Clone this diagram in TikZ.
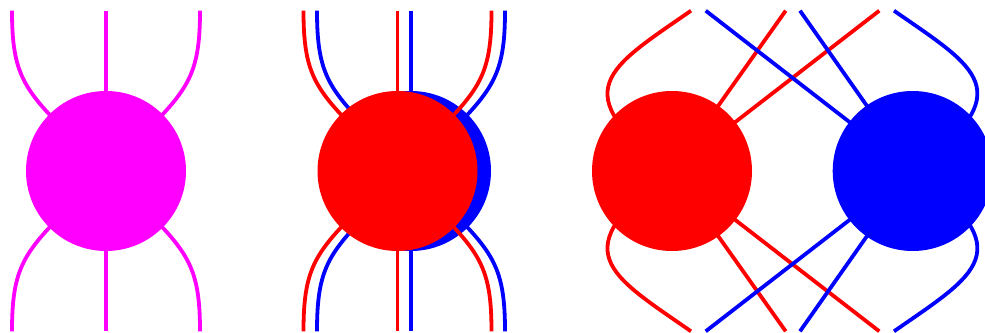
\documentclass[tikz,border=0pt]{standalone}
\usetikzlibrary{positioning}
\definecolor{pmagenta}{RGB}{255,0,255}
\definecolor{pred}{RGB}{255,0,0}
\definecolor{pblue}{RGB}{0,0,255}
\tikzset{
    % Node styles
    blob/.style={circle, inner sep=0pt, minimum size=160pt, draw=none},
    % Leg styles
    leg/.style={line width=3.8pt},
}

\begin{document}
\begin{tikzpicture}[x=1pt, y=-1pt]
    \useasboundingbox (0,0) rectangle (985,332);
    \clip (0,0) rectangle (985,332);

    % Single blob, then two stacked blobs
    \foreach \c/\x/\col in {M/106/pmagenta, B/411/pblue, R/397.5/pred} {
        \coordinate (\c) at (\x,171);
        \coordinate (\c1) at (\x-94,10.7);
        \coordinate (\c2) at (\x,10.7);
        \coordinate (\c3) at (\x+94,10.7);
        \coordinate (\c4) at (\x-94,331.3);
        \coordinate (\c5) at (\x,331.3);
        \coordinate (\c6) at (\x+94,331.3);
        \draw[leg, \col] (\c) .. controls +(-77,-77) and +(0,77) .. (\c1);
        \draw[leg, \col] (\c) -- (\c2);
        \draw[leg, \col] (\c) .. controls +(77,-77) and +(0,77) .. (\c3);
        \draw[leg, \col] (\c) .. controls +(-77,77) and +(0,-77) .. (\c4);
        \draw[leg, \col] (\c) -- (\c5);
        \draw[leg, \col] (\c) .. controls +(77,77) and +(0,-77) .. (\c6);
        \node[blob, fill=\col] (\c-blob) at (\c) {};
    }

    % Separated blobs
    \coordinate (R3) at (672,171);
    \coordinate (B3) at (912.7,171);
    \coordinate (T1) at (691,10.7);
    \coordinate (T2) at (705.7,10.7);
    \coordinate (T3) at (785.7,10.7);
    \coordinate (T4) at (800,10.7);
    \coordinate (T5) at (879.3,10.7);
    \coordinate (T6) at (894,10.7);
    \coordinate (D1) at (691,331.3);
    \coordinate (D2) at (705.7,331.3);
    \coordinate (D3) at (785.7,331.3);
    \coordinate (D4) at (800,331.3);
    \coordinate (D5) at (879.3,331.3);
    \coordinate (D6) at (894,331.3);

    \draw[leg, pred] (R3) .. controls +(-110,-80) and +(-82,57) .. (T1);
    \draw[leg, pred] (R3) -- (T3);
    \draw[leg, pred] (R3) -- (T5);
    \draw[leg, pred] (R3) .. controls +(-110,80) and +(-82,-57) .. (D1);
    \draw[leg, pred] (R3) -- (D3);
    \draw[leg, pred] (R3) -- (D5);

    \draw[leg, pblue] (B3) -- (T2);
    \draw[leg, pblue] (B3) -- (T4);
    \draw[leg, pblue] (B3) .. controls +(110,-80) and +(82,57) .. (T6);
    \draw[leg, pblue] (B3) -- (D2);
    \draw[leg, pblue] (B3) -- (D4);
    \draw[leg, pblue] (B3) .. controls +(110,80) and +(82,-57) .. (D6);

    \node[blob, fill=pred] (R3-blob) at (R3) {};
    \node[blob, fill=pblue] (B3-blob) at (B3) {};
\end{tikzpicture}
\end{document}
